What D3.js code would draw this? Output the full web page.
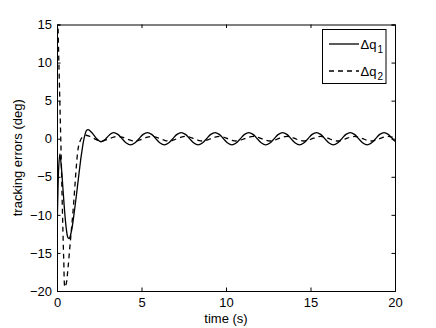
<!DOCTYPE html>
<html>
<head>
<meta charset="utf-8">
<script src="https://cdn.jsdelivr.net/npm/d3@7"></script>
<style>
  html, body { margin: 0; padding: 0; background: #fff; }
  svg { display: block; font-family: 'Liberation Sans', Arial, Helvetica, sans-serif; }
</style>
</head>
<body>
<svg width="436" height="328"></svg>
<script>
// tracking errors
var timeQ1 = [0, 0.05, 0.1, 0.17, 0.25, 0.35, 0.45, 0.55, 0.65, 0.72, 0.85, 1.0, 1.15, 1.3, 1.45, 1.6, 1.75, 1.85, 2.1, 2.35, 2.6, 2.85, 3.1,
  3.35, 3.6, 3.85, 4.1, 4.35, 4.6, 4.85, 5.1, 5.35, 5.6, 5.85, 6.1, 6.35, 6.6, 6.85, 7.1, 7.35, 7.6, 7.85, 8.1, 8.35, 8.6, 8.85, 9.1,
  9.35, 9.6, 9.85, 10.1, 10.35, 10.6, 10.85, 11.1, 11.35, 11.6, 11.85, 12.1, 12.35, 12.6, 12.85, 13.1, 13.35, 13.6, 13.85, 14.1,
  14.35, 14.6, 14.85, 15.1, 15.35, 15.6, 15.85, 16.1, 16.35, 16.6, 16.85, 17.1, 17.35, 17.6, 17.85, 18.1, 18.35, 18.6, 18.85, 19.1,
  19.35, 19.6, 19.85, 20];
var dq1 = [-12.5, -7.5, -3.8, -2.0, -3.5, -6.5, -9.5, -11.8, -13.0, -13.1, -12.2, -10.0, -7.4, -4.6, -2.0, 0.0, 1.1, 1.2, 0.7, 0.0, -0.4, -0.1, 0.5,
  0.8, 0.57, 0, -0.57, -0.8, -0.57, 0, 0.57, 0.8, 0.57, 0, -0.57, -0.8, -0.57, 0, 0.57, 0.8, 0.57, 0, -0.57, -0.8, -0.57, 0, 0.57,
  0.8, 0.57, 0, -0.57, -0.8, -0.57, 0, 0.57, 0.8, 0.57, 0, -0.57, -0.8, -0.57, 0, 0.57, 0.8, 0.57, 0, -0.57,
  -0.8, -0.57, 0, 0.57, 0.8, 0.57, 0, -0.57, -0.8, -0.57, 0, 0.57, 0.8, 0.57, 0, -0.57, -0.8, -0.57, 0, 0.57,
  0.8, 0.57, 0, -0.35];

var timeQ2 = [0, 0.05, 0.1, 0.15, 0.2, 0.25, 0.3, 0.35, 0.4, 0.47, 0.55, 0.65, 0.75, 0.85, 0.95, 1.05, 1.15, 1.25, 1.35, 1.5, 1.7, 1.9,
  2.1, 2.35, 2.6, 2.85, 3.1, 3.35, 3.6, 3.85, 4.1, 4.35, 4.6, 4.85, 5.1, 5.35, 5.6, 5.85, 6.1, 6.35, 6.6, 6.85, 7.1, 7.35, 7.6, 7.85,
  8.1, 8.35, 8.6, 8.85, 9.1, 9.35, 9.6, 9.85, 10.1, 10.35, 10.6, 10.85, 11.1, 11.35, 11.6, 11.85, 12.1, 12.35, 12.6, 12.85,
  13.1, 13.35, 13.6, 13.85, 14.1, 14.35, 14.6, 14.85, 15.1, 15.35, 15.6, 15.85, 16.1, 16.35, 16.6, 16.85, 17.1, 17.35, 17.6, 17.85,
  18.1, 18.35, 18.6, 18.85, 19.1, 19.35, 19.6, 19.85, 20];
var dq2 = [18, 15.5, 11, 6.5, 2.0, -2.5, -7.5, -12, -16, -19.5, -19, -17, -14.5, -12, -9.5, -6.5, -3.5, -1.3, -0.4, 0.2, 0.45, 0.35,
  0.15, -0.15, -0.35, -0.2, 0, 0.2, 0.3, 0.2, 0, -0.2, -0.3, -0.2, 0, 0.2, 0.3, 0.2, 0, -0.2, -0.3, -0.2, 0, 0.2, 0.3, 0.2,
  0, -0.2, -0.3, -0.2, 0, 0.2, 0.3, 0.2, 0, -0.2, -0.3, -0.2, 0, 0.2, 0.3, 0.2, 0, -0.2, -0.3, -0.2,
  0, 0.2, 0.3, 0.2, 0, -0.2, -0.3, -0.2, 0, 0.2, 0.3, 0.2, 0, -0.2, -0.3, -0.2, 0, 0.2, 0.3, 0.2,
  0, -0.2, -0.3, -0.2, 0, 0.2, 0.3, 0.2, 0.1];

var xTicks = [0, 5, 10, 15, 20];
var yTicks = [-20, -15, -10, -5, 0, 5, 10, 15];
var legendNames = ['1', '2'];

var svg = d3.select('svg');
var plotL = 57, plotR = 395, plotT = 24.5, plotB = 291;

var x = d3.scaleLinear().domain([0, 20]).range([plotL, plotR]);
var y = d3.scaleLinear().domain([-20, 15]).range([plotB, plotT]);

var fmt = function (d) { return d < 0 ? '\u2212' + Math.abs(d) : '' + d; };

svg.append('defs').append('clipPath').attr('id', 'plot')
  .append('rect').attr('x', plotL).attr('y', plotT)
  .attr('width', plotR - plotL).attr('height', plotB - plotT);

// axes, matlab style: ticks inside on all four sides
svg.append('g').attr('transform', 'translate(0,' + plotB + ')')
  .call(d3.axisBottom(x).tickValues(xTicks).tickSize(-3.5).tickPadding(7).tickFormat(fmt));
svg.append('g').attr('transform', 'translate(0,' + plotT + ')')
  .call(d3.axisTop(x).tickValues(xTicks).tickSize(-3.5).tickFormat(''));
svg.append('g').attr('transform', 'translate(' + plotL + ',0)')
  .call(d3.axisLeft(y).tickValues(yTicks).tickSize(-3.5).tickPadding(5).tickFormat(fmt));
svg.append('g').attr('transform', 'translate(' + plotR + ',0)')
  .call(d3.axisRight(y).tickValues(yTicks).tickSize(-3.5).tickFormat(''));

svg.selectAll('.domain').attr('stroke', '#000').attr('stroke-width', 1);
svg.selectAll('.tick line').attr('stroke', '#000');
svg.selectAll('.tick text').attr('font-size', 13).attr('fill', '#000')
  .attr('font-family', "'Liberation Sans', Arial, sans-serif");

var line = d3.line()
  .x(function (d) { return x(d[0]); })
  .y(function (d) { return y(d[1]); })
  .curve(d3.curveCatmullRom.alpha(0.5));

var series = [
  { t: timeQ1, v: dq1, dash: null },
  { t: timeQ2, v: dq2, dash: '5,4' }
];

svg.append('g').attr('clip-path', 'url(#plot)')
  .selectAll('path').data(series).enter().append('path')
  .attr('d', function (s) { return line(s.t.map(function (t, i) { return [t, s.v[i]]; })); })
  .attr('fill', 'none').attr('stroke', '#000').attr('stroke-width', 1.3)
  .attr('stroke-dasharray', function (s) { return s.dash; });

// axis titles
svg.append('text').attr('x', (plotL + plotR) / 2).attr('y', 323)
  .attr('text-anchor', 'middle').attr('font-size', 13).text('time (s)');
svg.append('text').attr('transform', 'translate(22,' + (plotT + plotB) / 2 + ') rotate(-90)')
  .attr('text-anchor', 'middle').attr('font-size', 13).text('tracking errors (deg)');

// legend
var lg = svg.append('g');
lg.append('rect').attr('x', 322.5).attr('y', 29.5).attr('width', 63.5).attr('height', 54)
  .attr('fill', '#fff').attr('stroke', '#000').attr('stroke-width', 1);
legendNames.forEach(function (n, i) {
  var ly = 44 + i * 27;
  lg.append('line').attr('x1', 329).attr('x2', 359).attr('y1', ly).attr('y2', ly)
    .attr('stroke', '#000').attr('stroke-width', 1.3)
    .attr('stroke-dasharray', series[i].dash);
  var t = lg.append('text').attr('x', 360.5).attr('y', ly + 4.5).attr('font-size', 13);
  t.append('tspan').text('\u0394q');
  t.append('tspan').attr('dx', 1).attr('dy', 4).attr('font-size', 10).text(n);
});
</script>
</body>
</html>
